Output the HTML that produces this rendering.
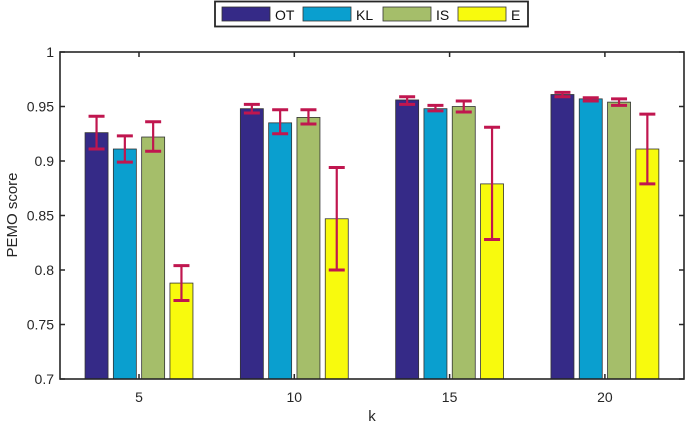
<!DOCTYPE html>
<html><head><meta charset="utf-8"><style>
body{margin:0;background:#fff;}
svg{font-family:"Liberation Sans",sans-serif;}
</style></head><body>
<svg id="c" width="685" height="426" xmlns="http://www.w3.org/2000/svg"></svg>
<script>
const categories=["5","10","15","20"];
const seriesNames=["OT","KL","IS","E"];
const OT=[0.926,0.948,0.956,0.961];
const KL=[0.911,0.935,0.948,0.957];
const IS=[0.922,0.940,0.950,0.954];
const E=[0.788,0.847,0.879,0.911];
const OTlo=[0.911,0.944,0.952,0.959], OThi=[0.941,0.952,0.959,0.963];
const KLlo=[0.899,0.925,0.946,0.955], KLhi=[0.923,0.947,0.951,0.958];
const ISlo=[0.909,0.934,0.945,0.951], IShi=[0.936,0.947,0.955,0.957];
const Elo=[0.772,0.800,0.828,0.879], Ehi=[0.804,0.894,0.931,0.943];
const yTicks=[0.7,0.75,0.8,0.85,0.9,0.95,1];
const yTickLabels=["0.7","0.75","0.8","0.85","0.9","0.95","1"];
const colors=["#352a87","#0a9fcf","#a5be6a","#f8fa0d"];
const series=[OT,KL,IS,E], los=[OTlo,KLlo,ISlo,Elo], his=[OThi,KLhi,IShi,Ehi];
const L=60,R=684,T=52,B=379;
const y=v=>B-(v-0.7)/0.3*(B-T);
const x=i=>139+i*155.3;
const svg=document.getElementById('c');
const NS="http://www.w3.org/2000/svg";
function mk(tag,at,txt){const e=document.createElementNS(NS,tag);for(const k in at)e.setAttribute(k,at[k]);if(txt!=null)e.textContent=txt;svg.appendChild(e);return e;}
series.forEach((s,si)=>{s.forEach((v,ci)=>{
 const cx=x(ci)+(si-1.5)*28.3;
 const r=mk('rect',{x:cx-11.5,y:y(v),width:23,height:B-y(v),fill:colors[si],stroke:'#333','stroke-width':0.8});
 
 
});});
series.forEach((s,si)=>{s.forEach((v,ci)=>{
 const cx=x(ci)+(si-1.5)*28.3;
 const g=document.createElementNS(NS,'g');
 
 
 const yl=y(los[si][ci]),yh=y(his[si][ci]);
 g.innerHTML=`<line x1="${cx}" x2="${cx}" y1="${yl}" y2="${yh}" stroke="#c0164f" stroke-width="2.2"/><line x1="${cx-8}" x2="${cx+8}" y1="${yl}" y2="${yl}" stroke="#c0164f" stroke-width="3"/><line x1="${cx-8}" x2="${cx+8}" y1="${yh}" y2="${yh}" stroke="#c0164f" stroke-width="3"/>`;
 svg.appendChild(g);
});});
const ax=mk('rect',{x:L,y:T,width:R-L,height:B-T,fill:'none',stroke:'#262626','stroke-width':1.6});


yTicks.forEach((t,i)=>{
 mk('line',{x1:L,x2:L+5,y1:y(t),y2:y(t),stroke:'#262626','stroke-width':1.5});
 mk('line',{x1:R-5,x2:R,y1:y(t),y2:y(t),stroke:'#262626','stroke-width':1.5});
 const tl=mk('text',{x:L-6,y:y(t)+5,'text-anchor':'end','font-size':14,fill:'#262626'},yTickLabels[i]);
 
 
});
categories.forEach((c,i)=>{
 mk('line',{x1:x(i),x2:x(i),y1:B,y2:B-5,stroke:'#262626','stroke-width':1.5});
 mk('line',{x1:x(i),x2:x(i),y1:T,y2:T+5,stroke:'#262626','stroke-width':1.5});
 const tl=mk('text',{x:x(i),y:B+23,'text-anchor':'middle','font-size':14,fill:'#262626'},c);
 
 
});
const xt=mk('text',{x:372,y:421,'text-anchor':'middle','font-size':15,fill:'#262626'},'k');


const yt=mk('text',{x:0,y:0,transform:'translate(17,215) rotate(-90)','text-anchor':'middle','font-size':15,fill:'#262626'},'PEMO score');


const lg=mk('rect',{x:215,y:1.5,width:313,height:25,fill:'#fff',stroke:'#262626','stroke-width':1.8});


const lx=[222,303,383,458];
seriesNames.forEach((n,i)=>{
 const b=mk('rect',{x:lx[i],y:7,width:48,height:14,fill:colors[i],stroke:'#333','stroke-width':0.8});
 
 
 const t=mk('text',{x:lx[i]+53,y:20,'font-size':14,fill:'#111'},n);
 
 
});
</script>
</body></html>
